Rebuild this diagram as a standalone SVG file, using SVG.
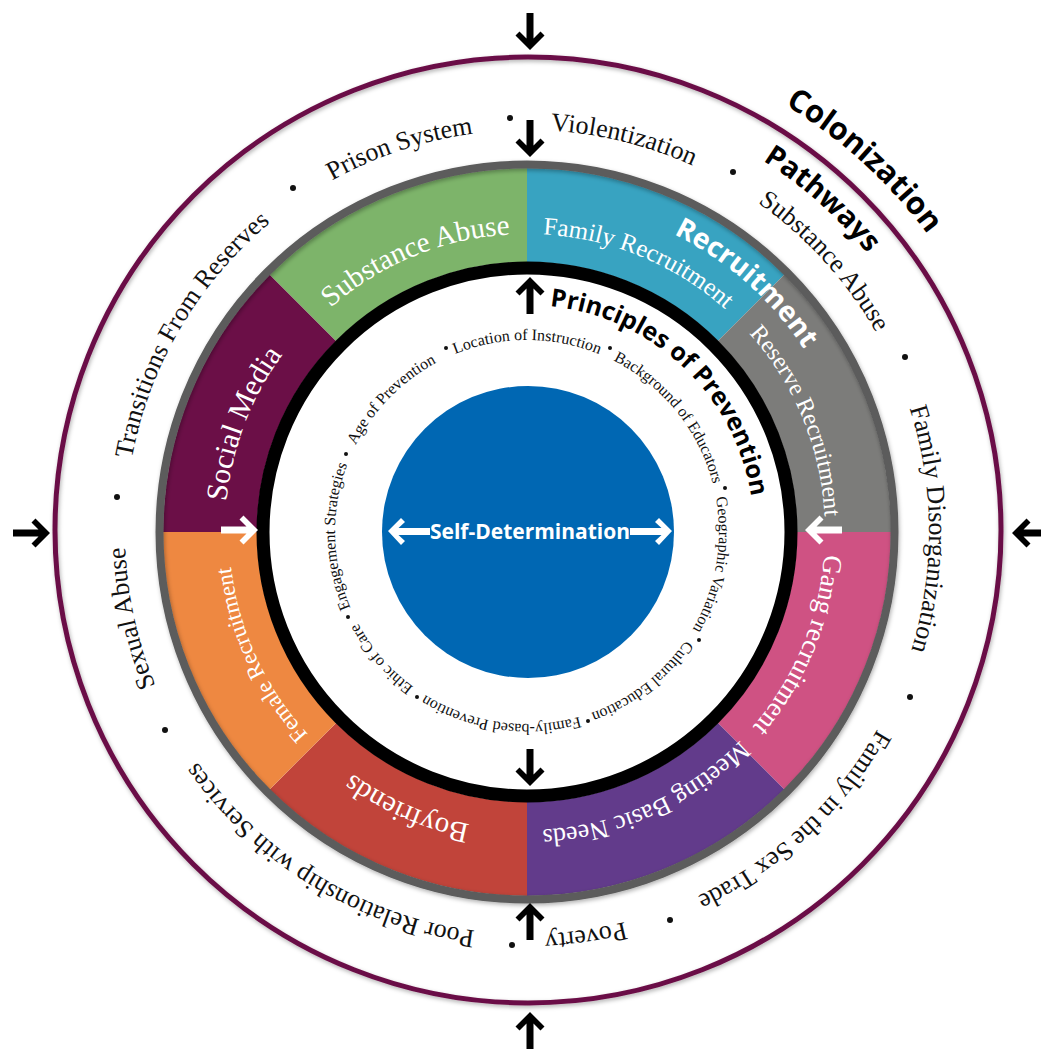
<svg xmlns="http://www.w3.org/2000/svg" width="1041" height="1049" viewBox="0 0 1041 1049">
<defs>
<style>
.ot{font-family:"Liberation Serif","Times New Roman",serif;font-size:26px;fill:#111;}
.st{font-family:"Liberation Serif","Times New Roman",serif;fill:#fff;}
.it{font-family:"Liberation Serif","Times New Roman",serif;font-size:16px;fill:#111;}
.bt{font-family:"Open Sans","Liberation Sans",sans-serif;font-weight:700;}
.dot{fill:#111;}
.arrK{fill:#000;}
.arrW{fill:#fff;}
</style>
<path id="c402" d="M527,130 A402,402 0 1,1 527,934 A402,402 0 1,1 527,130 A402,402 0 1,1 527,934 A402,402 0 1,1 527,130"/>
<path id="c499" d="M527,33 A499,499 0 1,1 527,1031 A499,499 0 1,1 527,33 A499,499 0 1,1 527,1031 A499,499 0 1,1 527,33"/>
<path id="c440" d="M527,92 A440,440 0 1,1 527,972 A440,440 0 1,1 527,92 A440,440 0 1,1 527,972 A440,440 0 1,1 527,92"/>
<path id="c332" d="M527,200 A332,332 0 1,1 527,864 A332,332 0 1,1 527,200 A332,332 0 1,1 527,864 A332,332 0 1,1 527,200"/>
<path id="c298" d="M527,234 A298,298 0 1,1 527,830 A298,298 0 1,1 527,234 A298,298 0 1,1 527,830 A298,298 0 1,1 527,234"/>
<path id="c302" d="M527,230 A302,302 0 1,1 527,834 A302,302 0 1,1 527,230 A302,302 0 1,1 527,834 A302,302 0 1,1 527,230"/>
<path id="c227" d="M527,305 A227,227 0 1,1 527,759 A227,227 0 1,1 527,305 A227,227 0 1,1 527,759 A227,227 0 1,1 527,305"/>
<path id="c192" d="M527,340 A192,192 0 1,1 527,724 A192,192 0 1,1 527,340 A192,192 0 1,1 527,724 A192,192 0 1,1 527,340"/>
<path id="arr" d="M0,0 L-14.5,-14.5 L-10.5,-18.5 L-3.5,-11.5 L-3.5,-37 L3.5,-37 L3.5,-11.5 L10.5,-18.5 L14.5,-14.5 Z"/>
<filter id="sh" x="-10%" y="-10%" width="120%" height="120%">
<feDropShadow dx="1" dy="2" stdDeviation="2" flood-color="#000" flood-opacity="0.3"/>
</filter>
</defs>
<rect width="1041" height="1049" fill="#fff"/>

<g id="colonization-ring">
<circle cx="528" cy="530" r="473" fill="none" stroke="#6b0f46" stroke-width="5" filter="url(#sh)"/>
<text class="bt" font-size="31" text-anchor="middle" fill="#000"><textPath href="#c499" startOffset="3503">Colonization</textPath></text>
</g>

<g id="pathways">
<text class="bt" font-size="29" text-anchor="middle" fill="#000"><textPath href="#c440" startOffset="3083">Pathways</textPath></text>
<text class="ot" text-anchor="middle"><textPath href="#c402" startOffset="2622">Violentization</textPath></text>
<text class="ot" text-anchor="middle"><textPath href="#c402" startOffset="2859">Substance Abuse</textPath></text>
<text class="ot" text-anchor="middle"><textPath href="#c402" startOffset="3153">Family Disorganization</textPath></text>
<text class="ot" text-anchor="middle"><textPath href="#c402" startOffset="3487">Family in the Sex Trade</textPath></text>
<text class="ot" text-anchor="middle"><textPath href="#c402" startOffset="3729">Poverty</textPath></text>
<text class="ot" text-anchor="middle"><textPath href="#c402" startOffset="1482">Poor Relationship with Services</textPath></text>
<text class="ot" text-anchor="middle"><textPath href="#c402" startOffset="1807">Sexual Abuse</textPath></text>
<text class="ot" text-anchor="middle"><textPath href="#c402" startOffset="2107">Transitions From Reserves</textPath></text>
<text class="ot" text-anchor="middle"><textPath href="#c402" startOffset="2396">Prison System</textPath></text>
<circle class="dot" cx="510" cy="118" r="3"/>
<circle class="dot" cx="733" cy="172" r="3"/>
<circle class="dot" cx="905" cy="357" r="3"/>
<circle class="dot" cx="910" cy="697" r="3"/>
<circle class="dot" cx="670" cy="920" r="3"/>
<circle class="dot" cx="512" cy="945" r="3"/>
<circle class="dot" cx="165" cy="730" r="3"/>
<circle class="dot" cx="117" cy="497" r="3"/>
<circle class="dot" cx="293" cy="188" r="3"/>
</g>

<g id="recruitment-ring">
<g id="seg-family-recruitment">
<path d="M527,168 A364,364 0 0,1 784.39,274.61 L717.92,341.08 A270,270 0 0,0 527,262 Z" fill="#38a3c1"/>
<text class="st" font-size="25" text-anchor="middle"><textPath href="#c298" startOffset="1988">Family Recruitment</textPath></text>
</g>
<g id="seg-reserve-recruitment">
<path d="M784.39,274.61 A364,364 0 0,1 891,532 L797,532 A270,270 0 0,0 717.92,341.08 Z" fill="#7c7c7a"/>
<text class="st" font-size="24" text-anchor="middle"><textPath href="#c298" startOffset="2223">Reserve Recruitment</textPath></text>
</g>
<g id="seg-gang-recruitment">
<path d="M891,532 A364,364 0 0,1 784.39,789.39 L717.92,722.92 A270,270 0 0,0 797,532 Z" fill="#cf5283"/>
<text class="st" font-size="27" text-anchor="middle"><textPath href="#c298" startOffset="2457">Gang recruitment</textPath></text>
</g>
<g id="seg-meeting-basic-needs">
<path d="M784.39,789.39 A364,364 0 0,1 527,896 L527,802 A270,270 0 0,0 717.92,722.92 Z" fill="#623b8b"/>
<text class="st" font-size="26" text-anchor="middle"><textPath href="#c298" startOffset="2681">Meeting Basic Needs</textPath></text>
</g>
<g id="seg-boyfriends">
<path d="M527,896 A364,364 0 0,1 269.61,789.39 L336.08,722.92 A270,270 0 0,0 527,802 Z" fill="#c1443a"/>
<text class="st" font-size="29" text-anchor="middle"><textPath href="#c298" startOffset="1058">Boyfriends</textPath></text>
</g>
<g id="seg-female-recruitment">
<path d="M269.61,789.39 A364,364 0 0,1 163,532 L257,532 A270,270 0 0,0 336.08,722.92 Z" fill="#ee8841"/>
<text class="st" font-size="23" text-anchor="middle"><textPath href="#c298" startOffset="1275">Female Recruitment</textPath></text>
</g>
<g id="seg-social-media">
<path d="M163,532 A364,364 0 0,1 269.61,274.61 L336.08,341.08 A270,270 0 0,0 257,532 Z" fill="#6b0f47"/>
<text class="st" font-size="30" text-anchor="middle"><textPath href="#c302" startOffset="1533">Social Media</textPath></text>
</g>
<g id="seg-substance-abuse">
<path d="M269.61,274.61 A364,364 0 0,1 527,168 L527,262 A270,270 0 0,0 336.08,341.08 Z" fill="#7db46a"/>
<text class="st" font-size="29" text-anchor="middle"><textPath href="#c298" startOffset="1756">Substance Abuse</textPath></text>
</g>
<circle cx="527" cy="532" r="367.5" fill="none" stroke="#5c5c5c" stroke-width="8" filter="url(#sh)"/>
<text class="bt" font-size="28" text-anchor="middle" fill="#fff"><textPath href="#c332" startOffset="2325">Recruitment</textPath></text>
</g>

<g id="principles-ring">
<circle cx="527" cy="532" r="264" fill="#fff" stroke="#000" stroke-width="13"/>
<text class="bt" font-size="25" text-anchor="middle" fill="#000"><textPath href="#c227" startOffset="1598">Principles of Prevention</textPath></text>
<text class="it" text-anchor="middle"><textPath href="#c192" startOffset="1053">Age of Prevention</textPath></text>
<text class="it" text-anchor="middle"><textPath href="#c192" startOffset="1206">Location of Instruction</textPath></text>
<text class="it" text-anchor="middle"><textPath href="#c192" startOffset="1377">Background of Educators</textPath></text>
<text class="it" text-anchor="middle"><textPath href="#c192" startOffset="1541">Geographic Variation</textPath></text>
<text class="it" text-anchor="middle"><textPath href="#c192" startOffset="1683">Cultural Education</textPath></text>
<text class="it" text-anchor="middle"><textPath href="#c192" startOffset="630">Family-based Prevention</textPath></text>
<text class="it" text-anchor="middle"><textPath href="#c192" startOffset="767">Ethic of Care</textPath></text>
<text class="it" text-anchor="middle"><textPath href="#c192" startOffset="900">Engagement Strategies</textPath></text>
<circle class="dot" cx="346" cy="454" r="2"/>
<circle class="dot" cx="446" cy="348" r="2"/>
<circle class="dot" cx="610" cy="348" r="2"/>
<circle class="dot" cx="725" cy="488" r="2"/>
<circle class="dot" cx="699" cy="640" r="2"/>
<circle class="dot" cx="588" cy="721" r="2"/>
<circle class="dot" cx="417" cy="697" r="2"/>
<circle class="dot" cx="348" cy="617" r="2"/>
</g>

<g id="self-determination">
<circle cx="528" cy="532" r="146" fill="#0067b3"/>
<text class="bt" x="530" y="539" font-size="21" text-anchor="middle" fill="#fff">Self-Determination</text>
</g>

<g id="connectors">
<use href="#arr" class="arrK" transform="translate(530,50)"/>
<use href="#arr" class="arrK" transform="translate(530,157)"/>
<use href="#arr" class="arrK" transform="translate(50,533) rotate(-90)"/>
<use href="#arr" class="arrK" transform="translate(1012,533) rotate(90)"/>
<use href="#arr" class="arrK" transform="translate(530,1012) rotate(180)"/>
<use href="#arr" class="arrK" transform="translate(530,903) rotate(180)"/>
<use href="#arr" class="arrK" transform="translate(530,277) rotate(180)"/>
<use href="#arr" class="arrK" transform="translate(530,786)"/>
<use href="#arr" class="arrW" transform="translate(258,530) rotate(-90)"/>
<use href="#arr" class="arrW" transform="translate(805,530) rotate(90)"/>
<path class="arrW" d="M388,531 L401,518 L405,522 L398.5,528 L430,528 L430,535 L398.5,535 L405,541 L401,545 Z"/>
<path class="arrW" d="M672,531 L659,518 L655,522 L661.5,528 L630,528 L630,535 L661.5,535 L655,541 L659,545 Z"/>
</g>
</svg>
